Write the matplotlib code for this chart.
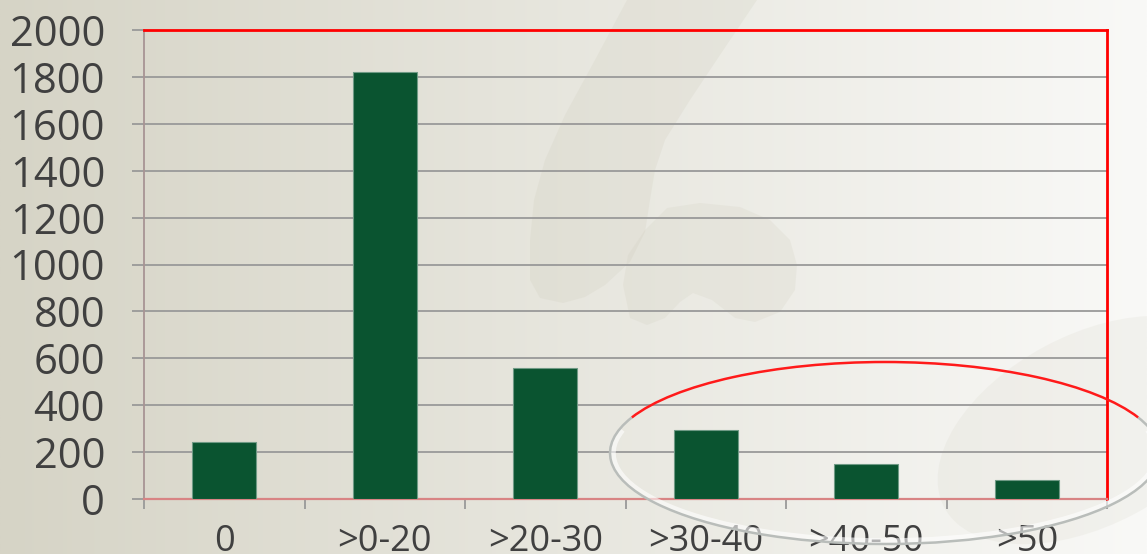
import numpy as np
import matplotlib.pyplot as plt
from matplotlib.patches import Polygon, Ellipse, Arc

# bar chart data
categories = ["0", ">0-20", ">20-30", ">30-40", ">40-50", ">50"]
counts = [245, 1820, 560, 295, 148, 80]
yticks = list(range(0, 2001, 200))

W, H = 1147, 554
plt.rcParams['font.family'] = ['Open Sans', 'DejaVu Sans']

fig = plt.figure(figsize=(W / 100, H / 100), dpi=100)

# background: horizontal beige -> white gradient with faint shapes
bg = fig.add_axes([0, 0, 1, 1], zorder=0)
bg.set_xlim(0, W)
bg.set_ylim(0, H)
bg.axis('off')
c0 = np.array([214, 212, 198]) / 255
c1 = np.array([249, 249, 247]) / 255
t = np.linspace(0, 1, 400)[None, :, None]
grad = c0 + (c1 - c0) * t
bg.imshow(np.repeat(grad, 2, axis=0), extent=[0, W, 0, H], aspect='auto')

def px(pts):
    return [(x, H - y) for x, y in pts]

swoosh = [(627, 0), (757, 0), (720, 55), (690, 100), (665, 140), (655, 170),
          (650, 200), (645, 232), (630, 262), (605, 285), (585, 297),
          (563, 303), (540, 298), (530, 280), (530, 240), (534, 200),
          (545, 160), (565, 115), (595, 60)]
blob = [(623, 285), (628, 255), (645, 230), (667, 208), (700, 203),
        (740, 207), (770, 220), (790, 240), (797, 265), (795, 290),
        (780, 312), (755, 322), (735, 318), (712, 300), (693, 293),
        (680, 302), (665, 318), (647, 325), (630, 318)]
shade = (0.80, 0.79, 0.72)
bg.add_patch(Polygon(px(swoosh), closed=True, fc=shade, ec='none', alpha=0.2))
bg.add_patch(Polygon(px(blob), closed=True, fc=shade, ec='none', alpha=0.18))
bg.add_patch(Ellipse((1090, H - 430), 330, 190, angle=28, fc=shade,
                     ec='none', alpha=0.14))

# main chart
ax = fig.add_axes([144 / W, (H - 499) / H, 963 / W, 469 / H], zorder=2)
ax.set_facecolor('none')
x = np.arange(len(categories))
ax.bar(x, counts, width=0.4, color='#0a5430', edgecolor='#6f9a85',
       linewidth=0.8, zorder=3)

ax.set_xlim(-0.5, len(categories) - 0.5)
ax.set_ylim(0, 2000)
ax.set_yticks(yticks)
ax.set_yticklabels([str(v) for v in yticks])
ax.set_xticks(x)
ax.set_xticklabels(categories)
ax.set_xticks(np.arange(-0.5, len(categories)), minor=True)
ax.grid(axis='y', color='#999999', linewidth=1.3, zorder=1)
ax.set_axisbelow(True)

ax.tick_params(axis='y', length=9, width=1.3, color='#999999', pad=19,
               labelsize=30, labelcolor='#404040')
ax.tick_params(axis='x', which='major', length=0, pad=18,
               labelsize=26, labelcolor='#404040')
ax.tick_params(axis='x', which='minor', length=7, width=1.3, color='#999999')

ax.spines['top'].set_color('#ff0000')
ax.spines['top'].set_linewidth(2)
ax.spines['right'].set_color('#ff0000')
ax.spines['right'].set_linewidth(2)
ax.spines['left'].set_color('#a89494')
ax.spines['left'].set_linewidth(1.3)
ax.spines['bottom'].set_color('#d88484')
ax.spines['bottom'].set_linewidth(1.6)

# ring drawn around the last three categories
ov = fig.add_axes([0, 0, 1, 1], zorder=10)
ov.set_xlim(0, W)
ov.set_ylim(0, H)
ov.axis('off')
ov.set_facecolor('none')
cx, cy, ew, eh = 885, H - 453, 550, 182
ov.add_patch(Arc((cx, cy), ew - 6, eh - 6, theta1=175, theta2=365,
                 color='white', lw=4, alpha=0.6))
ov.add_patch(Arc((cx, cy), ew, eh, theta1=172, theta2=368,
                 color='#b9bdba', lw=1.8))
ov.add_patch(Arc((cx, cy), ew, eh, theta1=8, theta2=172,
                 color='#ff1a1a', lw=1.8))

fig.savefig('out.png', dpi=100)
